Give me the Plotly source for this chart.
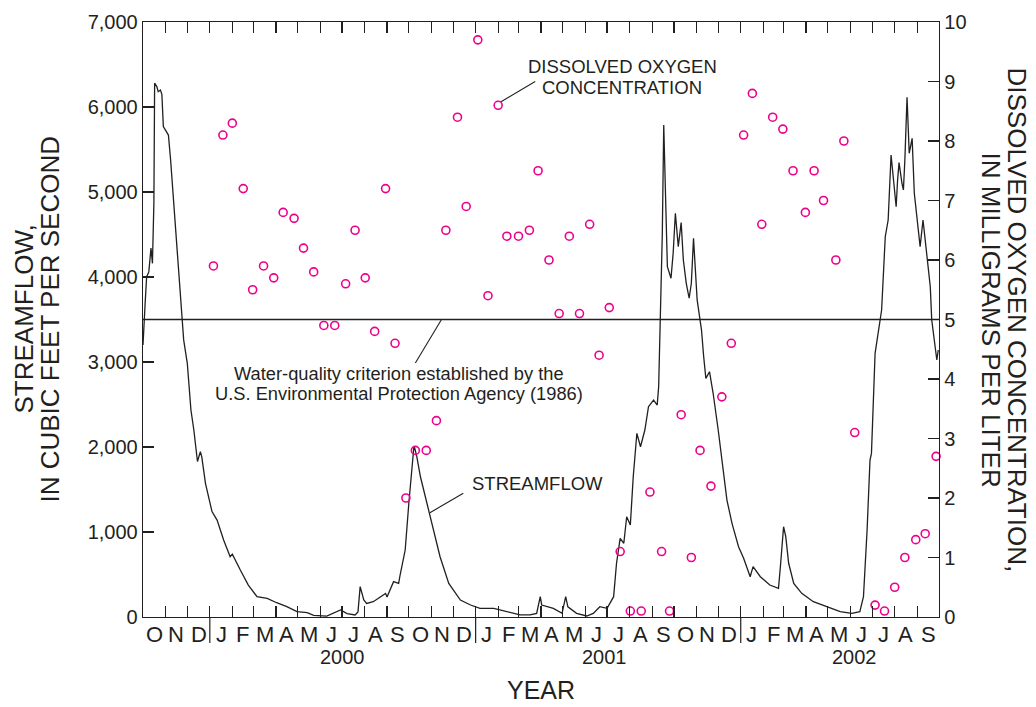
import pandas as pd
import plotly.graph_objects as go

START = pd.Timestamp("1999-10-01")
END = pd.Timestamp("2002-10-01")

# Daily streamflow (days since 1999-10-01, cubic feet per second)
flow_day = [0, 2, 3, 5, 8, 11, 13, 15, 16, 19, 21, 24, 26, 28, 33, 35, 38, 47, 56, 61,
            66, 70, 75, 79, 81, 86, 95, 102, 111, 120, 123, 134, 145, 157, 171, 184, 198, 212, 226, 235,
            253, 272, 281, 292, 296, 299, 304, 308, 317, 334, 336, 345, 352, 354, 361, 366, 373, 374, 377, 382,
            391, 400, 409, 421, 430, 437, 451, 464, 483, 501, 519, 533, 542, 547, 549, 565, 577, 582, 585, 597,
            611, 620, 629, 639, 648, 652, 657, 662, 666, 671, 675, 680, 685, 691, 696, 703, 708, 710, 712, 715,
            717, 719, 722, 727, 730, 733, 737, 741, 744, 748, 752, 755, 758, 763, 766, 769, 772, 775, 780, 785,
            792, 797, 804, 811, 820, 827, 836, 840, 850, 863, 875, 878, 882, 885, 889, 896, 907, 923, 942, 960,
            976, 987, 992, 997, 1001, 1003, 1008, 1013, 1017, 1022, 1026, 1030, 1033, 1037, 1039, 1041, 1045, 1047, 1049, 1052,
            1055, 1059, 1062, 1065, 1070, 1074, 1080, 1084, 1086, 1093, 1095]
flow_cfs = [3200, 3450, 3700, 4000, 4060, 4340, 4160, 4870, 6280, 6240, 6180, 6200, 6150, 5770, 5690, 5670, 5380, 4320, 3260, 2985,
            2435, 2200, 1830, 1945, 1880, 1573, 1240, 1140, 906, 709, 740, 553, 376, 239, 220, 168, 121, 63, 51, 20,
            10, 82, 40, 24, 60, 357, 200, 160, 180, 278, 235, 416, 396, 494, 788, 1338, 2003, 1990, 1886, 1650,
            1338, 1024, 709, 396, 278, 200, 141, 102, 102, 63, 24, 24, 43, 239, 141, 102, 43, 239, 120, 43,
            12, 43, 121, 102, 239, 632, 926, 867, 1180, 1082, 1650, 2161, 2003, 2200, 2474, 2553, 2494, 2710, 3376, 4500,
            5788, 5063, 4121, 3985, 4283, 4750, 4357, 4640, 4200, 3926, 3750, 3926, 4455, 3730, 3573, 3376, 3062, 2808, 2886, 2632,
            2200, 1847, 1376, 1102, 827, 690, 474, 592, 474, 376, 337, 632, 1062, 945, 632, 396, 278, 180, 121, 63,
            43, 63, 239, 1024, 1847, 1925, 3102, 3376, 3612, 4474, 4670, 5435, 5180, 4827, 5141, 5345, 5102, 5024, 5377, 6114,
            5455, 5632, 4985, 4750, 4357, 4670, 4240, 3886, 3494, 3024, 3141]

# Dissolved oxygen samples (days since 1999-10-01, mg/L)
do_day = [97, 110, 123, 138, 151, 166, 180, 193, 208, 221, 235, 249, 264, 279, 292, 306, 319, 334, 347, 362,
          375, 390, 404, 417, 433, 445, 461, 475, 489, 501, 517, 532, 544, 559, 573, 587, 601, 615, 628, 642,
          657, 671, 686, 698, 714, 725, 741, 755, 767, 782, 797, 810, 827, 839, 852, 867, 881, 895, 912, 924,
          937, 954, 965, 980, 1008, 1021, 1035, 1049, 1064, 1077, 1092]
do_mgl = [5.9, 8.1, 8.3, 7.2, 5.5, 5.9, 5.7, 6.8, 6.7, 6.2, 5.8, 4.9, 4.9, 5.6, 6.5, 5.7, 4.8, 7.2, 4.6, 2.0,
          2.8, 2.8, 3.3, 6.5, 8.4, 6.9, 9.7, 5.4, 8.6, 6.4, 6.4, 6.5, 7.5, 6.0, 5.1, 6.4, 5.1, 6.6, 4.4, 5.2,
          1.1, 0.1, 0.1, 2.1, 1.1, 0.1, 3.4, 1.0, 2.8, 2.2, 3.7, 4.6, 8.1, 8.8, 6.6, 8.4, 8.2, 7.5, 6.8, 7.5,
          7.0, 6.0, 8.0, 3.1, 0.2, 0.1, 0.5, 1.0, 1.3, 1.4, 2.7]

criterion_mgl = 5.0
month_letters = ["O", "N", "D", "J", "F", "M", "A", "M", "J", "J", "A", "S"]
year_labels = ["2000", "2001", "2002"]
year_label_dates = ["2000-07-01", "2001-06-28", "2002-06-07"]
flow_ticks = [0, 1000, 2000, 3000, 4000, 5000, 6000, 7000]
do_ticks = [0, 1, 2, 3, 4, 5, 6, 7, 8, 9, 10]

INK = "#231F20"
PINK = "#EC008C"
FONT = "Liberation Sans"

flow_dates = START + pd.to_timedelta(flow_day, unit="D")
do_dates = START + pd.to_timedelta(do_day, unit="D")
month_starts = pd.date_range(START, END, freq="MS")
mid_months = month_starts[:-1] + (month_starts[1:] - month_starts[:-1]) / 2

W, H = 1036, 707
ML, MR, MT, MB = 143, 97, 22, 90
PW, PH = W - ML - MR, H - MT - MB

fig = go.Figure()
fig.add_trace(go.Scatter(x=flow_dates, y=flow_cfs, mode="lines",
                         line=dict(color=INK, width=1.3), yaxis="y", showlegend=False,
                         hoverinfo="skip"))
fig.add_trace(go.Scatter(x=[START, END], y=[criterion_mgl, criterion_mgl], mode="lines",
                         line=dict(color=INK, width=1.3), yaxis="y2", showlegend=False,
                         hoverinfo="skip"))
fig.add_trace(go.Scatter(x=do_dates, y=do_mgl, mode="markers", yaxis="y2",
                         marker=dict(symbol="circle-open", size=8, color=PINK, line=dict(width=1.6, color=PINK)),
                         showlegend=False, cliponaxis=False))

ann = []
for i, d in enumerate(mid_months):
    ann.append(dict(x=d, y=0, xref="x", yref="paper", text=month_letters[i % 12], showarrow=False,
                    yanchor="middle", xanchor="center", yshift=-17, font=dict(size=22, color=INK, family=FONT)))
for t, d in zip(year_labels, year_label_dates):
    ann.append(dict(x=d, y=0, xref="x", yref="paper", text=t, showarrow=False,
                    yanchor="middle", xanchor="center", yshift=-40, font=dict(size=20, color=INK, family=FONT)))
ann.append(dict(x=0.5, y=0, xref="paper", yref="paper", text="YEAR", showarrow=False,
                yanchor="middle", xanchor="center", yshift=-73, font=dict(size=25, color=INK, family=FONT)))


def px_x(p):
    return (p - ML) / PW


ann += [
    dict(x=px_x(23), y=0.5, xref="paper", yref="paper", text="STREAMFLOW,", textangle=-90, showarrow=False,
         xanchor="center", yanchor="middle", font=dict(size=26, color=INK, family=FONT)),
    dict(x=px_x(49), y=0.5, xref="paper", yref="paper", text="IN CUBIC FEET PER SECOND", textangle=-90,
         showarrow=False, xanchor="center", yanchor="middle", font=dict(size=26, color=INK, family=FONT)),
    dict(x=px_x(1017), y=0.5, xref="paper", yref="paper", text="DISSOLVED OXYGEN CONCENTRATION,", textangle=90,
         showarrow=False, xanchor="center", yanchor="middle", font=dict(size=26, color=INK, family=FONT)),
    dict(x=px_x(991), y=0.5, xref="paper", yref="paper", text="IN MILLIGRAMS PER LITER", textangle=90,
         showarrow=False, xanchor="center", yanchor="middle", font=dict(size=26, color=INK, family=FONT)),
]

# In-plot labels
d = lambda n: START + pd.Timedelta(days=n)
ann += [
    dict(x=d(660), y=9.26, xref="x", yref="y2", text="DISSOLVED OXYGEN", showarrow=False,
         font=dict(size=18.5, color=INK, family=FONT)),
    dict(x=d(660), y=8.90, xref="x", yref="y2", text="CONCENTRATION", showarrow=False,
         font=dict(size=18.5, color=INK, family=FONT)),
    dict(x=d(353), y=4.10, xref="x", yref="y2", text="Water-quality criterion established by the", showarrow=False,
         font=dict(size=18.3, color=INK, family=FONT)),
    dict(x=d(352), y=3.75, xref="x", yref="y2", text="U.S. Environmental Protection Agency (1986)", showarrow=False,
         font=dict(size=18.3, color=INK, family=FONT)),
    dict(x=d(543), y=1565, xref="x", yref="y", text="STREAMFLOW", showarrow=False,
         font=dict(size=18.5, color=INK, family=FONT)),
]

shapes = []
for ms in month_starts:
    if ms.month == 1:
        shapes.append(dict(type="line", xref="x", yref="paper", x0=ms, x1=ms, y0=0, y1=-26 / PH,
                           line=dict(color=INK, width=1.2)))
shapes += [
    dict(type="line", xref="x", yref="y2", x0=d(540), y0=9.0, x1=d(493), y1=8.66, line=dict(color=INK, width=1.1)),
    dict(type="line", xref="x", yref="y2", x0=d(411), y0=5.0, x1=d(375), y1=4.27, line=dict(color=INK, width=1.1)),
    dict(type="line", xref="x", yref="y", x0=d(441), y0=1455, x1=d(395), y1=1227, line=dict(color=INK, width=1.1)),
]

axis_common = dict(showgrid=False, zeroline=False, showline=True, linecolor=INK, linewidth=1.3,
                   ticks="inside", ticklen=11, tickwidth=1.2, tickcolor=INK,
                   tickfont=dict(size=20, color=INK, family=FONT))

fig.update_layout(
    width=W, height=H, margin=dict(l=ML, r=MR, t=MT, b=MB),
    paper_bgcolor="white", plot_bgcolor="white",
    xaxis=dict(type="date", range=[START, END], tickmode="array", tickvals=list(month_starts),
               ticktext=[""] * len(month_starts), mirror="ticks", fixedrange=True, **axis_common),
    yaxis=dict(range=[0, 7000], tickmode="array", tickvals=flow_ticks, fixedrange=True,
               ticktext=[f"{v:,}" for v in flow_ticks], **axis_common),
    yaxis2=dict(range=[0, 10], overlaying="y", side="right", tickmode="array", tickvals=do_ticks,
                fixedrange=True, ticktext=[str(v) for v in do_ticks], **axis_common),
    annotations=ann, shapes=shapes,
)

fig.write_html("out.html", config={"displayModeBar": False, "staticPlot": True},
               post_script="document.body.style.margin='0';document.body.style.overflow='hidden';")
